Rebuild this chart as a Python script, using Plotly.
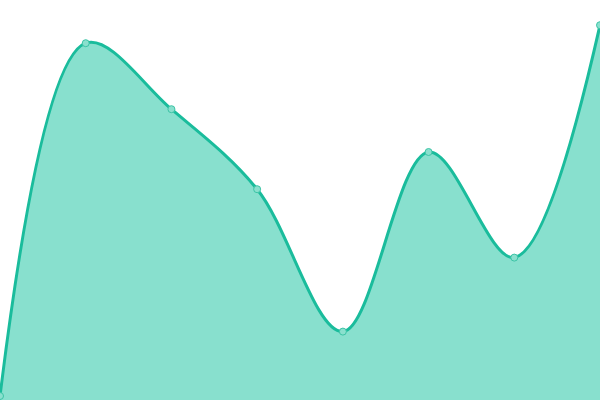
import plotly.graph_objects as go

# category positions and values (axis 0..100)
x_vals = [0, 1, 2, 3, 4, 5, 6, 7]
y_vals = [1, 89.2, 72.7, 52.7, 17.1, 62, 35.6, 93.7]

LINE = "#1abc9c"
FILL = "#88e0ce"

fig = go.Figure(
    go.Scatter(
        x=x_vals,
        y=y_vals,
        mode="lines+markers",
        line=dict(color=LINE, width=3, shape="spline", smoothing=1.0),
        fill="tozeroy",
        fillcolor=FILL,
        marker=dict(size=7, color="#8ae0ce", line=dict(color="#3cc4a6", width=1)),
        cliponaxis=False,
        hoverinfo="skip",
    )
)

fig.update_layout(
    width=600,
    height=400,
    margin=dict(l=0, r=0, t=0, b=0),
    paper_bgcolor="white",
    plot_bgcolor="white",
    showlegend=False,
    xaxis=dict(range=[0, 7], visible=False, fixedrange=True),
    yaxis=dict(range=[0, 100], visible=False, fixedrange=True),
)

fig.write_html(
    "out.html",
    config=dict(displayModeBar=False),
    post_script="document.body.style.margin = '0';",
)
